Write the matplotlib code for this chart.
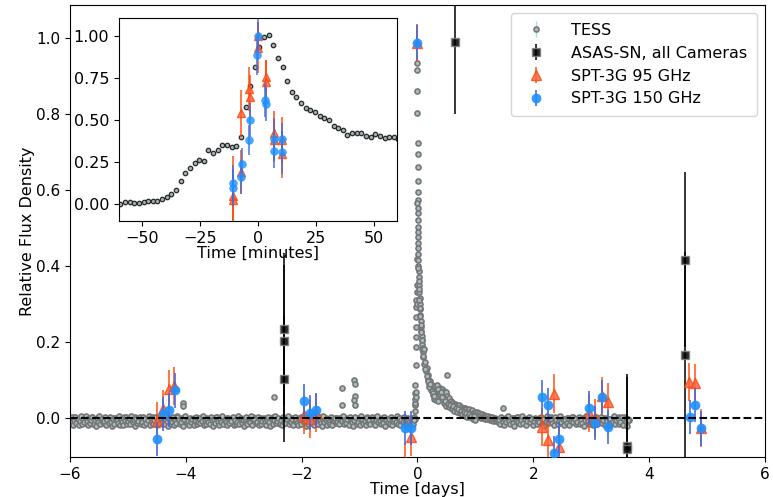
import numpy as np
import matplotlib
matplotlib.use('Agg')
import matplotlib.pyplot as plt

# TESS light curve, main panel (flux in units of 0.001 for the quiet parts)
tess_pre_mflux = [
    -4, -9, -2, -12, -6, 1, -8, -14, -3, -7, -10, 0, -5, -11, -6, -2, -13, -8, -4, -9,
    -1, -7, -12, -5, -9, 2, -6, -15, -8, -3, -10, -6, -1, -11, -7, -4, -9, -13, -5, 0,
    -8, -3, -11, -6, -14, -2, -9, -5, -7, -12, -1, -8, -4, -10, -6, -16, -3, -7, -9, -2,
    -5, -10, 3, -7, -12, -4, -8, -1, -11, -6, -9, -3, -14, -5, -7, 1, -10, -6, -2, -8,
    -12, -4, -7, -9, -1, -6, -13, -3, -8, -5, -10, -2, -7, -11, -4, -6, 2, -9, -5, -8,
    -3, -11, -6, -17, -4, -9, -2, -7, -12, -5, 0, -8, -10, -3, -6, -13, -1, -9, -4, -7,
    -10, -2, -6, -9, 4, -8, -5, -12, -3, -7, -15, -1, -6, -10, -4, -8, -2, -11, -7, -5,
    -9, -3, -13, -6, -1, -10, -7, -4, -12, -2, -8, -6, -11, 3, -5, -9, -14, -3, -7, -1,
    -6, -10, -4, -8, -13, -2, -7, -5, -11, -9, 1, -6, -3, -12, -8, -4, -10, -7, -2, -15,
    -5, -8, -1, -11, -6, -3, -9, -13, -4, -7, 0, -10, -5, -8, -12, -2, -6, -9, -4, -11,
    -7, -3, -14, -6, -1, -9, -5, -10, -3, -8, -12, -4, 2, -7, -11, -6, -2, -9, -13, -5,
    -8, -1, -6, -10, -4, -12, -7, -3, -9, -16, -5, -2, -8, -11, -6, 1, -10, -4, -7, -3,
    -11, -6, -9, -2, -13, -5, -8, -4, -10, -1, -7, -12, -3, -6, -9, -5, -14, 0, -8, -4,
    -2, -10, -7, -5, -12, -3, -9, -6, 3, -11, -4, -8, -1, -13, -7, -5, -10, -2, -6, -9,
    -4, -8, -12, -1, -6, -10, -3, -7, -15, -5, -9, -2, -11, -6, -4, -8, 0, -12, -7, -3,
    -9, -5, -2, -11, -7, -13, -4, -8, -1, -10, -6, -3, -12, -5, -9, 2, -7, -4, -10, -6,
    -1, -8, -11, -4, -6, -9, -3, -14, -5, -7, -2, -10, -6, -12, -3, -8, -5, -1, -9, -11,
    -6, -3, -10, -7, 1, -12, -5, -8, -2, -9, -4, -13, -6, -1, -10, -7, -3, -11, -5, -8,
    -12, -4, -7, -2, -9, -6, -15, -3, -8, -5, -10, 0, -7, -11, -4, -6, -9, -2, -13, -5,
    -3, -9, -6, -11, -1, -7, -4, -10, -5, -12, -2, -8, -6, -3, -9, -4, -1, -7, 2, -3,
]
# second sample of the quiet band (wider scatter)
tess_pre2_mflux = [
    -11, 3, -18, -6, 1, -14, -2, -20, -8, 4, -16, -4, -12, 6, -9, -19, -1, -13, -7, 2,
    -15, -5, -21, 0, -10, 5, -17, -3, -12, -8, 3, -19, -6, -14, 1, -10, -22, -4, -16, 0,
    -7, -13, 4, -18, -2, -11, -20, -5, 2, -15, -9, -1, -17, 5, -12, -6, -21, -3, -14, -8,
    1, -16, -10, 3, -19, -4, -13, -7, 6, -18, -1, -11, -15, -5, 2, -20, -9, -3, -14, 0,
    -12, -6, -17, 4, -8, -21, -2, -15, -10, 1, -19, -5, -13, 3, -7, -16, -11, -1, -22, -4,
    5, -14, -9, -18, 0, -12, -3, -20, -6, 2, -16, -10, -1, -13, -8, 4, -19, -5, -15, -2,
    -11, -17, 3, -7, -21, -4, -14, 1, -9, -18, -2, -12, 6, -16, -6, -10, -20, 0, -13, -3,
    -8, 2, -19, -5, -15, -11, 4, -17, -1, -13, -7, -22, -3, 1, -16, -9, -12, 5, -18, -6,
    -2, -14, -10, 3, -20, -4, -16, -8, 0, -12, -18, -6, 2, -11, -21, -3, -15, -7, 4, -13,
    -9, -1, -17, -5, -19, 1, -10, -14, -4, 6, -16, -8, -12, -2, -20, 3, -6, -13, -18, -1,
    -4, -15, 0, -11, -7, -21, 2, -17, -9, -3, -13, 5, -19, -5, -10, -16, 1, -8, -14, -22,
    4, -12, -6, -18, -2, -10, -15, 3, -20, -7, -1, -14, -11, 0, -17, -4, -9, 6, -16, -5,
    -13, -3, -19, 1, -8, -12, -21, -6, 2, -15, -10, -1, -18, 4, -5, -14, -9, -20, 0, -11,
    -7, -16, 3, -2, -13, -19, -5, 5, -11, -8, -17, -1, -14, 2, -22, -6, -10, -3, -15, 1,
    -18, -9, -4, -12, 6, -16, -1, -20, -7, -11, 3, -14, -5, -19, 0, -10, -13, -2, -17, -6,
]
tess_post_mflux = [
    162, 141, 146, 122, 131, 103, 112, 88, 97, 74, 86, 61, 70, 50, 64, 47, 58, 44, 71, 64,
    78, 60, 75, 62, 70, 52, 67, 58, 49, 41, 51, 34, 43, 38, 29, 40, 27, 37, 33, 23,
    31, 21, 35, 19, 28, 24, 17, 27, 14, 25, 22, 12, 19, 24, 10, 17, 8, 20, 13, 6,
    15, 4, 11, 16, 2, 12, 7, 0, 10, -1, 8, 3, -3, 6, -4, 5, 0, -6, 3, -2,
    1, -8, -4, 0, -9, -2, -6, -10, -3, -7, -11, -1, -5, -8, -12, -4, -7, 1, -9, -5,
    -2, -10, -6, -13, -3, -8, -1, -11, -5, -7, 3, -9, -4, -12, -6, -2, -10, -7, -14, -5,
    -8, -3, -11, -6, 0, -9, -4, -13, -7, -2, -10, -5, -8, -12, -1, -6, -9, -3, -11, -7,
    -4, -15, -6, -2, -9, -5, -12, -8, 2, -7, -10, -3, -6, -13, -4, -9, -1, -11, -5, -8,
    -6, -2, -10, -7, -12, -4, -9, -1, -8, -14, -5, -3, -11, -6, 1, -9, -7, -4, -12, -2,
    -8, -5, -10, -3, -13, -6, -1, -9, -7, -11, -4, -2, -8, -12, -5, -10, 0, -6, -3, -9,
    -7, -11, -4, -14, -2, -8, -5, -10, -6, -1, -12, -7, -3, -9, -5, -13, -2, -8, -11, -4,
    -6, -10, -1, -7, -3, -12, -5, -9, 3, -6, -2, -8, -4, -10, -7, 1, -5, -9, -3, -6,
]
# second sample of the decay tail (0.11 - 1.0 d)
tess_tail2_mflux = [
    180, 128, 110, 96, 82, 90, 70, 66, 58, 80, 86, 76, 62, 68, 55, 38, 44, 30, 36, 28,
    34, 22, 30, 18, 26, 15, 22, 12, 18, 9, 15, 6, 12, 3, 9, 1, 6, -2, 4, -5,
]
# second sample of the late quiet band (1.4 - 3.64 d)
tess_post2_mflux = [
    -6, -15, 2, -10, -19, -3, -12, 4, -8, -17, -1, -14, -21, -5, 1, -11, -16, -7, 5, -13,
    -2, -18, -9, 3, -12, -4, -20, -8, 0, -15, -6, -11, 2, -17, -3, -22, -10, 6, -14, -1,
    -7, -13, -19, 1, -5, -16, -9, 4, -11, -2, -18, -6, -14, 0, -20, -8, 3, -12, -4, -15,
    -10, 2, -17, -3, -13, -21, -6, 5, -9, -15, -1, -12, -19, -4, 1, -16, -7, -11, 3, -14,
    -5, -18, 0, -8, -20, -2, -13, -10, 4, -16, -6, -1, -15, -11, 2, -19, -3, -9, -22, -7,
]
tess_flare_t = [-0.046, -0.044, -0.042, -0.040, -0.038, -0.036, -0.034, -0.032, -0.030, -0.028,
                -0.026, -0.024, -0.022, -0.020, -0.018, -0.016, -0.014, -0.012, -0.010,
                -0.003, -0.002, -0.001, 0.000, 0.001, 0.002, 0.003, 0.004, 0.005, 0.006,
                0.000, 0.001, 0.002, 0.003, 0.004, 0.005, 0.006, 0.007, 0.008,
                0.008, 0.012, 0.016, 0.020, 0.024, 0.028, 0.032, 0.036, 0.040, 0.045,
                0.050, 0.055, 0.060, 0.065, 0.070, 0.076, 0.082, 0.088, 0.094, 0.100,
                0.010, 0.018, 0.026, 0.034, 0.042, 0.050, 0.058, 0.066, 0.074, 0.082]
tess_flare_f = [0.018, 0.033, 0.040, 0.050, 0.065, 0.086, 0.055, 0.068, 0.139, 0.187,
                0.213, 0.240, 0.266, 0.292, 0.310, 0.330, 0.349, 0.417, 0.300,
                0.933, 0.915, 0.860, 0.803, 0.722, 0.694, 0.659, 0.624, 0.595, 0.573,
                0.564, 0.551, 0.540, 0.520, 0.501, 0.489, 0.475, 0.460, 0.447,
                0.430, 0.415, 0.400, 0.385, 0.370, 0.350, 0.330, 0.315, 0.300, 0.285,
                0.270, 0.255, 0.240, 0.228, 0.215, 0.205, 0.195, 0.185, 0.172, 0.160,
                0.395, 0.360, 0.340, 0.310, 0.290, 0.268, 0.245, 0.225, 0.205, 0.180]
tess_out_t = [-4.05, -4.05, -2.47, -1.31, -1.30, -1.09, -1.08, -1.08, -1.09, -1.08, 0.51, 1.47]
tess_out_f = [0.038, 0.030, 0.054, 0.079, 0.034, 0.099, 0.088, 0.057, 0.046, 0.034, 0.112, 0.027]

# ASAS-SN
asas_t = [-2.30, -2.30, -2.30, 0.65, 3.62, 3.62, 4.62, 4.62]
asas_f = [0.233, 0.203, 0.102, 0.988, -0.074, -0.082, 0.416, 0.165]
asas_e = [0.20, 0.20, 0.165, 0.19, 0.19, 0.19, 0.23, 0.27]

# SPT-3G, main panel
spt95_t = [-4.50, -4.40, -4.29, -4.20, -1.96, -1.86, -1.75, -0.22, -0.11, 0.0,
           2.15, 2.25, 2.36, 2.45, 2.97, 3.07, 3.18, 3.29, 4.69, 4.80, 4.90]
spt95_f = [-0.008, 0.023, 0.076, 0.084, 0.008, -0.003, 0.012, -0.115, -0.050, 0.985,
           -0.025, -0.059, 0.064, -0.078, 0.013, 0.000, 0.058, 0.042, 0.093, 0.092, -0.028]
spt150_t = [-4.50, -4.40, -4.29, -4.18, -1.96, -1.86, -1.75, -0.22, -0.11, 0.0,
            2.15, 2.25, 2.36, 2.45, 2.97, 3.07, 3.18, 3.29, 4.70, 4.80, 4.90]
spt150_f = [-0.055, 0.010, 0.021, 0.072, 0.045, 0.014, 0.021, -0.026, -0.026, 0.987,
            0.055, 0.033, -0.092, -0.055, 0.025, -0.013, 0.055, -0.024, 0.003, 0.033, -0.028]

# inset: flare in minutes
ins_tess_t = list(np.arange(-59.4, 61, 2.0))
ins_tess_f = [0.000, 0.012, 0.014, 0.008, 0.006, 0.012, 0.016, 0.018, 0.016, 0.030,
              0.044, 0.059, 0.083, 0.139, 0.186, 0.216, 0.246, 0.265, 0.257, 0.319,
              0.305, 0.319, 0.350, 0.350, 0.339, 0.345, 0.398, 0.578, 0.703, 0.812,
              0.935, 0.994, 1.004, 0.947, 0.869, 0.816, 0.731, 0.667, 0.634, 0.600,
              0.568, 0.559, 0.549, 0.525, 0.509, 0.501, 0.461, 0.450, 0.440, 0.412,
              0.420, 0.422, 0.422, 0.404, 0.400, 0.416, 0.402, 0.390, 0.398, 0.398, 0.384]
ins150_t = [-11.0, -10.9, -7.5, -7.1, -3.9, -3.6, -0.4, 0.0, 3.2, 3.5, 6.8, 6.9, 10.3, 10.4]
ins150_f = [0.097, 0.123, 0.162, 0.236, 0.380, 0.499, 0.885, 1.000, 0.618, 0.592, 0.384, 0.315, 0.384, 0.307]
ins150_e = [0.11, 0.11, 0.10, 0.10, 0.09, 0.10, 0.12, 0.10, 0.10, 0.10, 0.12, 0.10, 0.10, 0.13]
ins95_t = [-11.0, -10.9, -7.5, -7.2, -3.8, -3.6, -0.1, 0.0, 3.5, 3.6, 6.9, 6.9, 10.3, 10.4]
ins95_f = [0.048, 0.025, 0.192, 0.539, 0.683, 0.638, 0.929, 1.000, 0.757, 0.727, 0.424, 0.380, 0.297, 0.380]
ins95_e = [0.24, 0.15, 0.13, 0.14, 0.13, 0.13, 0.15, 0.08, 0.10, 0.13, 0.13, 0.13, 0.14, 0.14]

tess_t = np.concatenate([np.linspace(-6.0, -0.05, len(tess_pre_mflux)),
                         np.linspace(-5.99, -0.06, len(tess_pre2_mflux)),
                         tess_flare_t,
                         np.linspace(0.10, 3.65, len(tess_post_mflux)),
                         np.linspace(0.11, 1.0, len(tess_tail2_mflux)),
                         np.linspace(1.40, 3.64, len(tess_post2_mflux)),
                         tess_out_t])
tess_f = np.concatenate([np.array(tess_pre_mflux) / 1000, np.array(tess_pre2_mflux) / 1000,
                         tess_flare_f,
                         np.array(tess_post_mflux) / 1000, np.array(tess_tail2_mflux) / 1000,
                         np.array(tess_post2_mflux) / 1000,
                         tess_out_f])

c95, c95e = 'tomato', 'orangered'
c150, c150e = 'dodgerblue', 'royalblue'

fig = plt.figure(figsize=(7.73, 4.97), dpi=100)
ax = fig.add_axes([0.0906, 0.0805, 0.899, 0.9095])

ax.errorbar(tess_t, tess_f, yerr=0.003, fmt='o', ms=3.6, mfc='#a6bfc4', mec='#767676', mew=1.2,
            ecolor='lightblue', elinewidth=1, zorder=2, label='TESS')
ax.errorbar(asas_t, asas_f, yerr=asas_e, fmt='s', ms=5.5, color='k', mec='gray', mew=1,
            ecolor='k', elinewidth=1.3, alpha=0.85, zorder=3, label='ASAS-SN, all Cameras')
ax.errorbar(spt95_t, spt95_f, yerr=0.05, fmt='^', ms=7, mfc=c95, mec=c95e, mew=1,
            ecolor=c95e, elinewidth=1.3, alpha=0.8, zorder=4, label='SPT-3G 95 GHz')
ax.errorbar(spt150_t, spt150_f, yerr=0.045, fmt='o', ms=6.5, mfc=c150, mec=c150, mew=0.5,
            ecolor=c150e, elinewidth=1.3, alpha=0.9, zorder=5, label='SPT-3G 150 GHz')
ax.axhline(0, color='k', ls='--', lw=1.5, zorder=6)

ax.set_xlim(-6, 6)
ax.set_ylim(-0.103, 1.086)
ax.set_xticks([-6, -4, -2, 0, 2, 4, 6])
ax.set_yticks([0.0, 0.2, 0.4, 0.6, 0.8, 1.0])
ax.tick_params(labelsize=11)
ax.set_xlabel('Time [days]', fontsize=11.5, labelpad=0)
ax.set_ylabel('Relative Flux Density', fontsize=11.5, labelpad=1)
ax.legend(loc='upper right', fontsize=11.5, borderpad=0.6, handletextpad=1.2)

# inset
axin = fig.add_axes([0.154, 0.5553, 0.3596, 0.4085])
axin.plot(ins_tess_t, ins_tess_f, 'o', ms=3.2, mfc='#9fb2b6', mec='#2a2a2a', mew=0.9, zorder=2)
axin.errorbar(ins95_t, ins95_f, yerr=ins95_e, fmt='^', ms=6, mfc=c95, mec=c95e, mew=1,
              ecolor=c95e, elinewidth=1.3, alpha=0.8, zorder=3)
axin.errorbar(ins150_t, ins150_f, yerr=ins150_e, fmt='o', ms=5.5, mfc=c150, mec=c150, mew=0.5,
              ecolor=c150e, elinewidth=1.3, alpha=0.8, zorder=4)
axin.set_xlim(-60, 60)
axin.set_ylim(-0.1, 1.105)
axin.set_xticks([-50, -25, 0, 25, 50])
axin.set_yticks([0.0, 0.25, 0.5, 0.75, 1.0])
axin.set_yticklabels(['0.00', '0.25', '0.50', '0.75', '1.00'])
axin.tick_params(labelsize=11.5)
axin.set_xlabel('Time [minutes]', fontsize=11.5, labelpad=0)

fig.savefig('out.png', dpi=100)
